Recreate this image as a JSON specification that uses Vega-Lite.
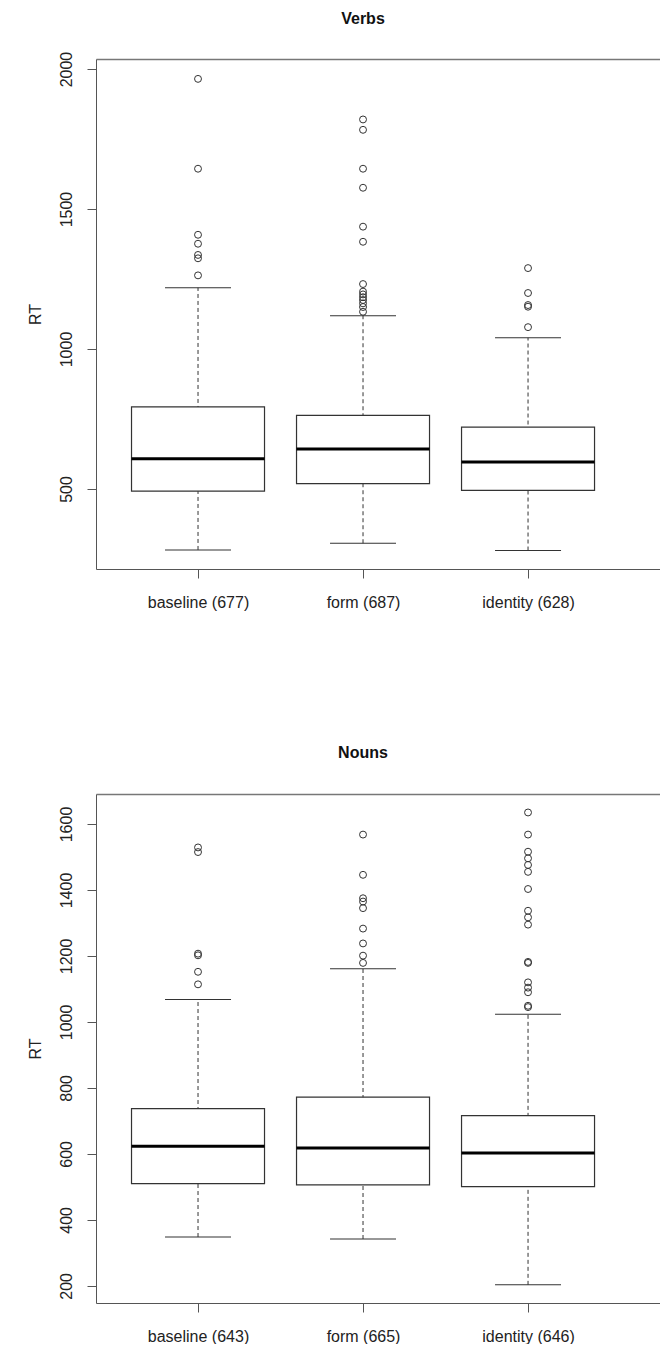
{
  "$schema": "https://vega.github.io/schema/vega-lite/v6.json",
  "background": "white",
  "padding": {"left": 27, "top": 11, "right": 0, "bottom": 0},
  "spacing": 135,
  "config": {
    "font": "Liberation Sans",
    "view": {"stroke": null},
    "axis": {"grid": false, "labelFont": "Liberation Sans", "labelFontSize": 16, "labelColor": "#222", "domainColor": "#555", "tickColor": "#555", "titleFont": "Liberation Sans", "titleFontSize": 16, "titleFontWeight": "normal", "titleColor": "#222"},
    "title": {"font": "Liberation Sans", "fontSize": 16, "fontWeight": "bold", "color": "#111"}
  },
  "datasets": {
    "verbs": [
      {"cond": "baseline (677)", "lo": 282, "q1": 492, "med": 608, "q3": 793, "hi": 1219},
      {"cond": "form (687)", "lo": 306, "q1": 519, "med": 643, "q3": 763, "hi": 1119},
      {"cond": "identity (628)", "lo": 280, "q1": 495, "med": 596, "q3": 721, "hi": 1040}
    ],
    "verbs_out": [
      {"cond": "baseline (677)", "rt": 1965}, {"cond": "baseline (677)", "rt": 1644}, {"cond": "baseline (677)", "rt": 1408},
      {"cond": "baseline (677)", "rt": 1376}, {"cond": "baseline (677)", "rt": 1336}, {"cond": "baseline (677)", "rt": 1324},
      {"cond": "baseline (677)", "rt": 1263},
      {"cond": "form (687)", "rt": 1820}, {"cond": "form (687)", "rt": 1783}, {"cond": "form (687)", "rt": 1644},
      {"cond": "form (687)", "rt": 1576}, {"cond": "form (687)", "rt": 1437}, {"cond": "form (687)", "rt": 1383},
      {"cond": "form (687)", "rt": 1232}, {"cond": "form (687)", "rt": 1205}, {"cond": "form (687)", "rt": 1195},
      {"cond": "form (687)", "rt": 1185}, {"cond": "form (687)", "rt": 1175}, {"cond": "form (687)", "rt": 1163},
      {"cond": "form (687)", "rt": 1150}, {"cond": "form (687)", "rt": 1133},
      {"cond": "identity (628)", "rt": 1289}, {"cond": "identity (628)", "rt": 1200}, {"cond": "identity (628)", "rt": 1157},
      {"cond": "identity (628)", "rt": 1151}, {"cond": "identity (628)", "rt": 1078}
    ],
    "nouns": [
      {"cond": "baseline (643)", "lo": 348, "q1": 510, "med": 623, "q3": 737, "hi": 1068},
      {"cond": "form (665)", "lo": 342, "q1": 506, "med": 618, "q3": 772, "hi": 1161},
      {"cond": "identity (646)", "lo": 203, "q1": 501, "med": 603, "q3": 716, "hi": 1023}
    ],
    "nouns_out": [
      {"cond": "baseline (643)", "rt": 1529}, {"cond": "baseline (643)", "rt": 1515}, {"cond": "baseline (643)", "rt": 1207},
      {"cond": "baseline (643)", "rt": 1202}, {"cond": "baseline (643)", "rt": 1152}, {"cond": "baseline (643)", "rt": 1114},
      {"cond": "form (665)", "rt": 1568}, {"cond": "form (665)", "rt": 1446}, {"cond": "form (665)", "rt": 1375},
      {"cond": "form (665)", "rt": 1365}, {"cond": "form (665)", "rt": 1345}, {"cond": "form (665)", "rt": 1283},
      {"cond": "form (665)", "rt": 1238}, {"cond": "form (665)", "rt": 1201}, {"cond": "form (665)", "rt": 1179},
      {"cond": "identity (646)", "rt": 1635}, {"cond": "identity (646)", "rt": 1568}, {"cond": "identity (646)", "rt": 1516},
      {"cond": "identity (646)", "rt": 1496}, {"cond": "identity (646)", "rt": 1476}, {"cond": "identity (646)", "rt": 1455},
      {"cond": "identity (646)", "rt": 1403}, {"cond": "identity (646)", "rt": 1337}, {"cond": "identity (646)", "rt": 1317},
      {"cond": "identity (646)", "rt": 1295}, {"cond": "identity (646)", "rt": 1182}, {"cond": "identity (646)", "rt": 1179},
      {"cond": "identity (646)", "rt": 1120}, {"cond": "identity (646)", "rt": 1104}, {"cond": "identity (646)", "rt": 1090},
      {"cond": "identity (646)", "rt": 1049}, {"cond": "identity (646)", "rt": 1045}
    ]
  },
  "vconcat": [
    {
      "width": 564,
      "height": 510,
      "title": {"text": "Verbs", "offset": 11, "baseline": "alphabetic", "dx": -15},
      "resolve": {"axis": {"x": "independent"}},
      "layer": [
        {
          "data": {"name": "verbs"},
          "mark": {"type": "rule", "color": "#333", "strokeDash": [4, 3], "strokeWidth": 1},
          "encoding": {
            "x": {"field": "cond", "type": "nominal", "scale": {"type": "point", "domain": ["baseline (677)", "form (687)", "identity (628)"], "padding": 0.709, "align": 0.436},
                  "axis": {"orient": "bottom", "title": null, "labelAngle": 0, "tickSize": 9, "labelPadding": 16, "labelBaseline": "top"}},
            "y": {"field": "lo", "type": "quantitative", "scale": {"domain": [214, 2036], "nice": false, "zero": false},
                  "axis": {"title": "RT", "values": [500, 1000, 1500, 2000], "format": "d", "tickSize": 9, "labelAngle": -90, "labelAlign": "center", "labelBaseline": "alphabetic", "labelPadding": 16, "titlePadding": 15}},
            "y2": {"field": "hi"}
          }
        },
        {
          "data": {"name": "verbs"},
          "mark": {"type": "bar", "width": 133, "fill": "white", "stroke": "#333", "strokeWidth": 1.2},
          "encoding": {
            "x": {"field": "cond", "type": "nominal", "axis": null},
            "y": {"field": "q1", "type": "quantitative"},
            "y2": {"field": "q3"}
          }
        },
        {
          "data": {"name": "verbs"},
          "mark": {"type": "tick", "color": "#000", "size": 133, "thickness": 3, "opacity": 1},
          "encoding": {
            "x": {"field": "cond", "type": "nominal", "axis": null},
            "y": {"field": "med", "type": "quantitative"}
          }
        },
        {
          "data": {"name": "verbs"},
          "mark": {"type": "tick", "color": "#333", "size": 66, "thickness": 1, "opacity": 1},
          "encoding": {
            "x": {"field": "cond", "type": "nominal", "axis": null},
            "y": {"field": "lo", "type": "quantitative"}
          }
        },
        {
          "data": {"name": "verbs"},
          "mark": {"type": "tick", "color": "#333", "size": 66, "thickness": 1, "opacity": 1},
          "encoding": {
            "x": {"field": "cond", "type": "nominal", "axis": null},
            "y": {"field": "hi", "type": "quantitative"}
          }
        },
        {
          "data": {"name": "verbs_out"},
          "mark": {"type": "point", "shape": "circle", "filled": false, "stroke": "#333", "strokeWidth": 1, "size": 48, "opacity": 1},
          "encoding": {
            "x": {"field": "cond", "type": "nominal", "axis": {"orient": "top", "labels": false, "ticks": false, "title": null, "domainColor": "#777", "domainWidth": 1.5}},
            "y": {"field": "rt", "type": "quantitative"}
          }
        }
      ]
    },
    {
      "width": 564,
      "height": 509,
      "title": {"text": "Nouns", "offset": 20, "baseline": "alphabetic", "dx": -15},
      "resolve": {"axis": {"x": "independent"}},
      "layer": [
        {
          "data": {"name": "nouns"},
          "mark": {"type": "rule", "color": "#333", "strokeDash": [4, 3], "strokeWidth": 1},
          "encoding": {
            "x": {"field": "cond", "type": "nominal", "scale": {"type": "point", "domain": ["baseline (643)", "form (665)", "identity (646)"], "padding": 0.709, "align": 0.436},
                  "axis": {"orient": "bottom", "title": null, "labelAngle": 0, "tickSize": 9, "labelPadding": 16, "labelBaseline": "top"}},
            "y": {"field": "lo", "type": "quantitative", "scale": {"domain": [148, 1691], "nice": false, "zero": false},
                  "axis": {"title": "RT", "values": [200, 400, 600, 800, 1000, 1200, 1400, 1600], "format": "d", "tickSize": 9, "labelAngle": -90, "labelAlign": "center", "labelBaseline": "alphabetic", "labelPadding": 16, "titlePadding": 15}},
            "y2": {"field": "hi"}
          }
        },
        {
          "data": {"name": "nouns"},
          "mark": {"type": "bar", "width": 133, "fill": "white", "stroke": "#333", "strokeWidth": 1.2},
          "encoding": {
            "x": {"field": "cond", "type": "nominal", "axis": null},
            "y": {"field": "q1", "type": "quantitative"},
            "y2": {"field": "q3"}
          }
        },
        {
          "data": {"name": "nouns"},
          "mark": {"type": "tick", "color": "#000", "size": 133, "thickness": 3, "opacity": 1},
          "encoding": {
            "x": {"field": "cond", "type": "nominal", "axis": null},
            "y": {"field": "med", "type": "quantitative"}
          }
        },
        {
          "data": {"name": "nouns"},
          "mark": {"type": "tick", "color": "#333", "size": 66, "thickness": 1, "opacity": 1},
          "encoding": {
            "x": {"field": "cond", "type": "nominal", "axis": null},
            "y": {"field": "lo", "type": "quantitative"}
          }
        },
        {
          "data": {"name": "nouns"},
          "mark": {"type": "tick", "color": "#333", "size": 66, "thickness": 1, "opacity": 1},
          "encoding": {
            "x": {"field": "cond", "type": "nominal", "axis": null},
            "y": {"field": "hi", "type": "quantitative"}
          }
        },
        {
          "data": {"name": "nouns_out"},
          "mark": {"type": "point", "shape": "circle", "filled": false, "stroke": "#333", "strokeWidth": 1, "size": 48, "opacity": 1},
          "encoding": {
            "x": {"field": "cond", "type": "nominal", "axis": {"orient": "top", "labels": false, "ticks": false, "title": null, "domainColor": "#777", "domainWidth": 1.5}},
            "y": {"field": "rt", "type": "quantitative"}
          }
        }
      ]
    }
  ]
}
